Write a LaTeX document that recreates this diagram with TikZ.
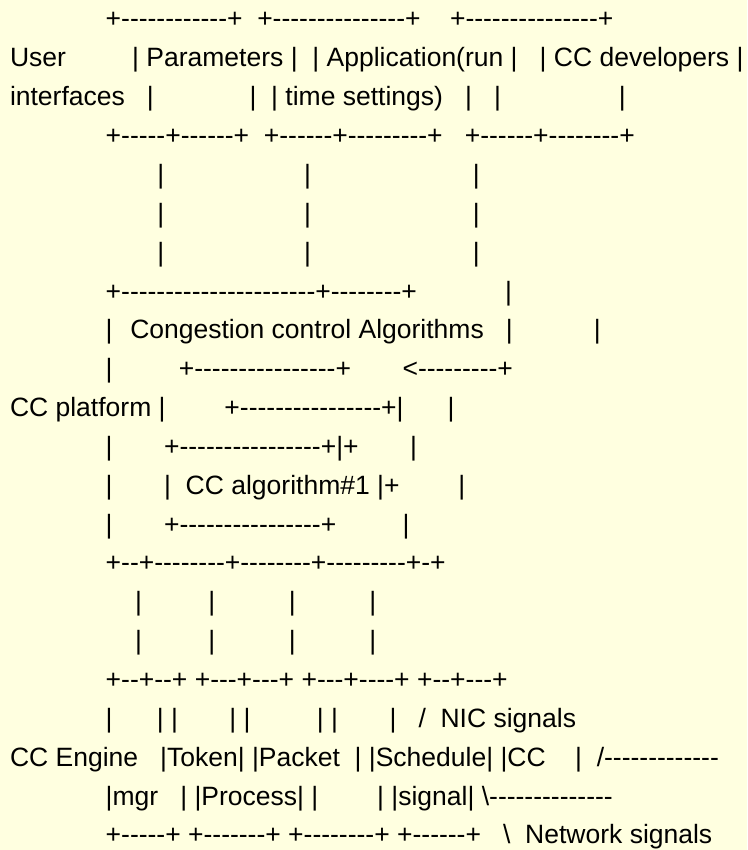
\documentclass[tikz,border=0pt]{standalone}
\usepackage{fontspec}
\setmainfont{Liberation Sans}[Ligatures=TeXOff]
\definecolor{paper}{RGB}{255,255,224}
% n interword spaces of the current font
\newcommand\gap[1]{\hspace*{#1\fontdimen2\font}}
\tikzset{
  ln/.style={anchor=base west, inner sep=0pt, outer sep=0pt, text=black,
             font=\fontsize{26.5}{30}\selectfont},
}
\begin{document}
\begin{tikzpicture}[x=1pt,y=-1pt]
\fill[paper] (0,0) rectangle (747,850);
\useasboundingbox (0,0) rectangle (747,850);
\def\xo{10}
\node[ln] (l0)  at (\xo, 28.0)  {\gap{13}+------------+\gap{2}+---------------+\gap{4}+---------------+};
\node[ln] (l1)  at (\xo, 66.9)  {User\gap{9}|\gap{1}Parameters\gap{1}|\gap{2}|\gap{1}Application(run\gap{1}|\gap{3}|\gap{1}CC developers\gap{1}|};
\node[ln] (l2)  at (\xo, 105.7) {interfaces\gap{3}|\gap{13}|\gap{2}|\gap{1}time settings)\gap{3}|\gap{3}|\gap{16}|};
\node[ln] (l3)  at (\xo, 144.6) {\gap{13}+-----+------+\gap{2}+------+---------+\gap{3}+------+--------+};
\node[ln] (l4)  at (\xo, 183.4) {\gap{20}|\gap{19}|\gap{22}|};
\node[ln] (l5)  at (\xo, 222.3) {\gap{20}|\gap{19}|\gap{22}|};
\node[ln] (l6)  at (\xo, 261.1) {\gap{20}|\gap{19}|\gap{22}|};
\node[ln] (l7)  at (\xo, 300.0) {\gap{13}+----------------------+--------+\gap{12}|};
\node[ln] (l8)  at (\xo, 338.8) {\gap{13}|\gap{2}\kern3pt Congestion control Algorithms\gap{3}|\gap{11}|};
\node[ln] (l9)  at (\xo, 377.7) {\gap{13}|\gap{9}+----------------+\gap{7}<---------+};
\node[ln] (l10) at (\xo, 416.5) {CC platform\gap{1}|\gap{8}+----------------+|\gap{6}|};
\node[ln] (l11) at (\xo, 455.4) {\gap{13}|\gap{7}+----------------+|+\gap{7}|};
\node[ln] (l12) at (\xo, 494.2) {\gap{13}|\gap{7}|\gap{2}CC algorithm\#1\gap{1}|+\gap{8}|};
\node[ln] (l13) at (\xo, 533.1) {\gap{13}|\gap{7}+----------------+\gap{9}|};
\node[ln] (l14) at (\xo, 571.9) {\gap{13}+--+--------+--------+---------+-+};
\node[ln] (l15) at (\xo, 610.8) {\gap{17}|\gap{9}|\gap{10}|\gap{10}|};
\node[ln] (l16) at (\xo, 649.6) {\gap{17}|\gap{9}|\gap{10}|\gap{10}|};
\node[ln] (l17) at (\xo, 688.5) {\gap{13}+--+--+\gap{1}+---+---+\gap{1}+---+----+\gap{1}+--+---+};
\node[ln] (l18) at (\xo, 727.3) {\gap{13}|\gap{6}|\gap{1}|\gap{7}|\gap{1}|\gap{9}|\gap{1}|\gap{7}|\gap{3}/\gap{2}NIC signals};
\node[ln] (l19) at (\xo, 766.2) {CC Engine\gap{3}|Token|\gap{1}|Packet\gap{2}|\gap{1}|Schedule|\gap{1}|CC\gap{4}|\gap{2}/-------------};
\node[ln] (l20) at (\xo, 805.0) {\gap{13}|mgr\gap{3}|\gap{1}|Process|\gap{1}|\gap{8}|\gap{1}|signal|\gap{1}\textbackslash--------------};
\node[ln] (l21) at (\xo, 843.9) {\gap{13}+-----+\gap{1}+-------+\gap{1}+--------+\gap{1}+------+\gap{3}\textbackslash\gap{2}Network signals};
\end{tikzpicture}
\end{document}
